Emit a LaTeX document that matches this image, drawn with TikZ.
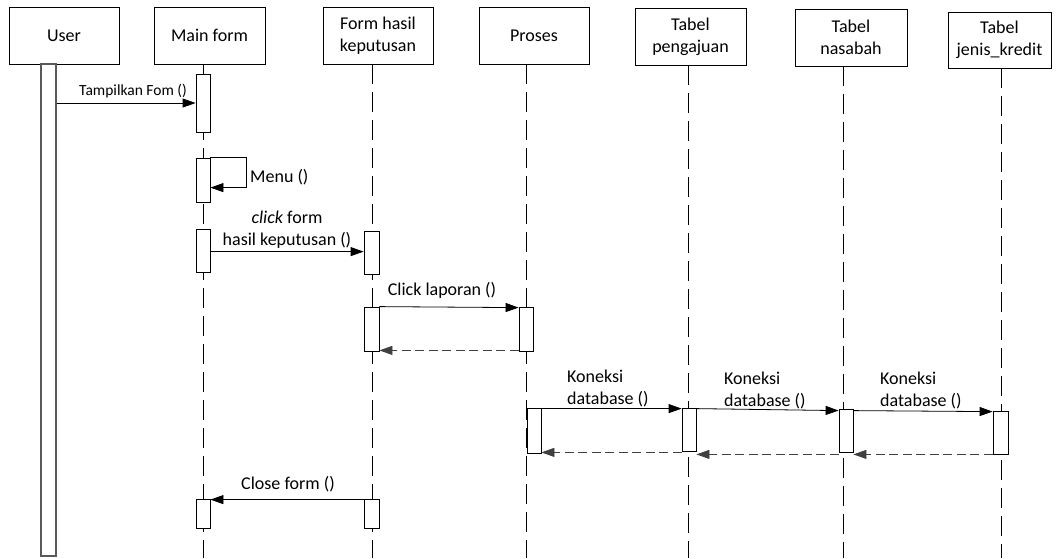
\documentclass[tikz,border=0pt]{standalone}
\usepackage{fontspec}
\setmainfont{Carlito}
\usetikzlibrary{arrows.meta}
\begin{document}
\begin{tikzpicture}[x=1pt,y=-1pt,
  head/.style={draw, line width=0.8pt, inner sep=0pt, align=center, minimum height=57pt, font=\fontsize{18}{22}\selectfont},
  bar/.style={draw, fill=white, line width=0.8pt, inner sep=0pt, minimum width=14pt},
  life/.style={line width=0.8pt, dash pattern=on 20pt off 8pt},
  msg/.style={line width=0.8pt, -{Triangle[length=13pt,width=9pt]}},
  ret/.style={msg, draw=black!75, dash pattern=on 9pt off 4.5pt},
  lbl/.style={inner sep=0pt, align=left, font=\fontsize{18}{22}\selectfont},
  clbl/.style={lbl, align=center}
]
\useasboundingbox (0,0) rectangle (1057,558);
% headers
\node[head, minimum width=110pt] (user) at (64,35.5) {User};
\node[head, minimum width=111pt] (main) at (209.5,35.5) {Main form};
\node[head, minimum width=110pt] (form) at (378,35.5) {Form hasil\\keputusan};
\node[head, minimum width=110pt] (proses) at (534,35.5) {Proses};
\node[head, minimum width=111pt] (peng) at (690.5,36.5) {Tabel\\pengajuan};
\node[head, minimum width=112pt] (nasabah) at (851,37.5) {Tabel\\nasabah};
\node[head, minimum width=103pt, minimum height=56pt] (jenis) at (999.5,40) {Tabel\\jenis\_kredit};
% lifeline ends
\coordinate (mainE) at (203,558);
\coordinate (formE) at (372,558);
\coordinate (prosesE) at (526,558);
\coordinate (pengE) at (688,558);
\coordinate (nasE) at (843,558);
\coordinate (jenisE) at (1001,558);
\draw[life] (main.south -| mainE) -- (mainE);
\draw[life] (form.south -| formE) -- (formE);
\draw[life] (proses.south -| prosesE) -- (prosesE);
\draw[life] (peng.south -| pengE) -- (pengE);
\draw[life] (nasabah.south -| nasE) -- (nasE);
\draw[life] (jenis.south -| jenisE) -- (jenisE);
% activation bars
\node[bar, draw=black!65, line width=1.4pt, minimum width=15pt, minimum height=492pt] (ubar) at (48.5,310) {};
\node[bar, minimum height=58pt] (m1) at (203,103) {};
\node[bar, minimum height=44pt] (m2) at (203,180) {};
\node[bar, minimum height=43pt] (m3) at (203,250.5) {};
\node[bar, minimum width=15pt, minimum height=43pt] (f1) at (371.5,252.5) {};
\node[bar, minimum width=15pt, minimum height=44pt] (f2) at (371.5,329) {};
\node[bar, minimum height=44pt] (p1) at (526,329) {};
\node[bar, minimum height=45pt] (p2) at (534,430.5) {};
\node[bar, minimum height=43pt] (t1) at (689,429.5) {};
\node[bar, minimum height=43pt] (n1) at (846,430.5) {};
\node[bar, minimum width=15pt, minimum height=43pt] (j1) at (1000.5,432.5) {};
\node[bar, minimum height=29pt] (m4) at (203,513.5) {};
\node[bar, minimum width=15pt, minimum height=29pt] (f3) at (371.5,513.5) {};
% messages
\draw[msg] (ubar.east |- m1.west) -- (m1.west);
\node[inner sep=0pt, font=\fontsize{15.5}{18}\selectfont] (tamp) at (133,91) {Tampilkan Fom ()};
\draw[msg] (m2.north east) -- ++(36,0) -- ++(0,30) -- ([yshift=-30pt]m2.north east);
\node[lbl, anchor=west] (menu) at (250,177) {Menu ()};
\coordinate (c1) at ([yshift=-23pt]m3.north east);
\draw[msg] (c1) -- (c1 -| f1.west);
\node[clbl] (clk) at (287,229.5) {\textit{click} form\\hasil keputusan ()};
\draw[msg] (f2.north east) -- ([yshift=-1pt]p1.north west);
\node[lbl] (lap) at (442,290) {Click laporan ()};
\coordinate (r1) at ([yshift=1pt]p1.south west);
\draw[ret] (r1) -- (r1 -| f2.east);
\coordinate (k1) at ([yshift=-1pt]p2.north east);
\draw[msg] (k1) -- (k1 -| t1.west);
\node[lbl, anchor=west] (kon1) at (567,388) {Koneksi\\database ()};
\coordinate (r2) at ([yshift=-1pt]t1.south west);
\draw[ret] (r2) -- (r2 -| p2.east);
\draw[msg] ([yshift=-1pt]t1.north east) -- ([yshift=-2pt]n1.north west);
\node[lbl, anchor=west] (kon2) at (724,390) {Koneksi\\database ()};
\coordinate (r3) at ([yshift=-2pt]n1.south west);
\draw[ret] (r3) -- (r3 -| t1.east);
\draw[msg] ([yshift=-2pt]n1.north east) -- ([yshift=-1pt]j1.north west);
\node[lbl, anchor=west] (kon3) at (880,390) {Koneksi\\database ()};
\draw[ret] (j1.south west) -- (j1.south west -| n1.east);
\coordinate (cl) at ([yshift=-1pt]f3.north west);
\draw[msg] (cl) -- (cl -| m4.east);
\node[lbl] (close) at (288,484) {Close form ()};
\end{tikzpicture}
\end{document}
